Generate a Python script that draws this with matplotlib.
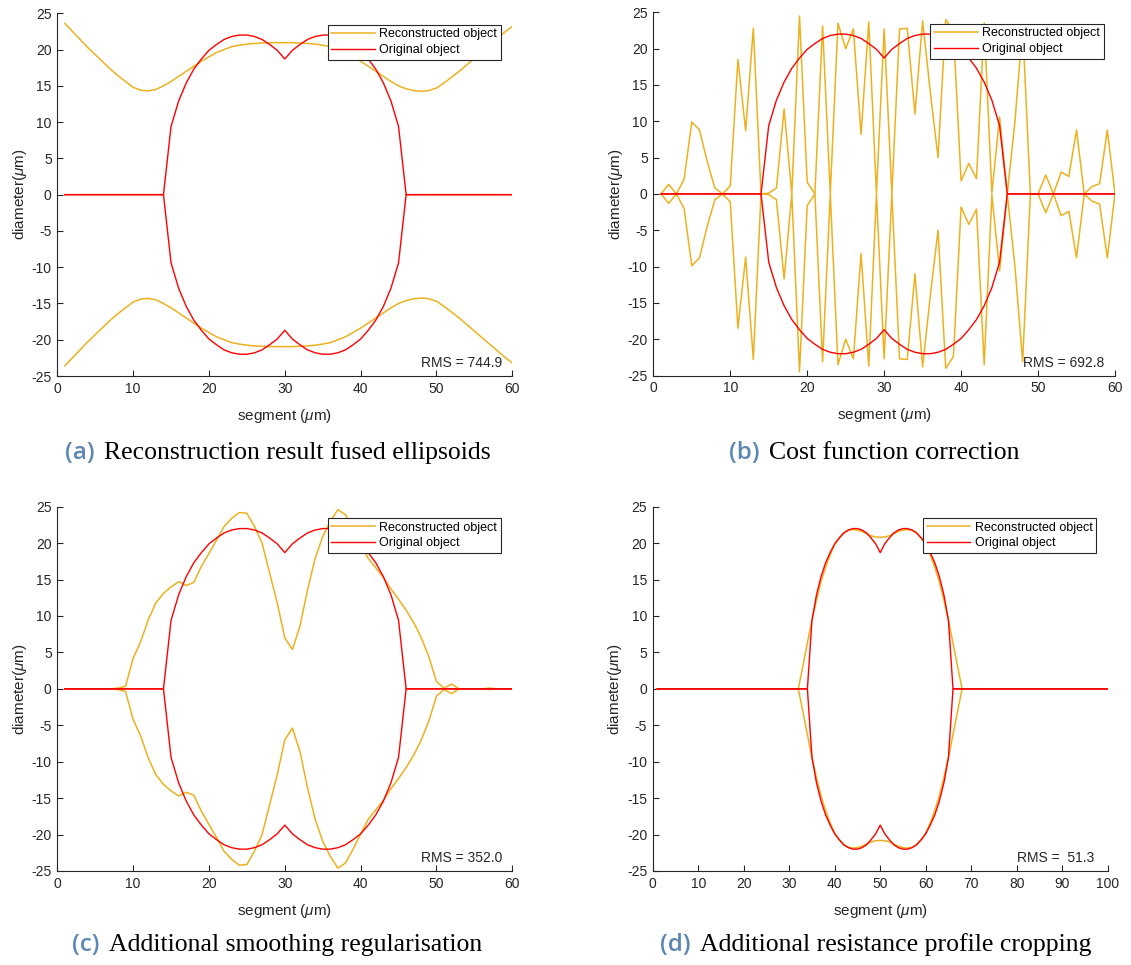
import matplotlib
matplotlib.use('Agg')
import matplotlib.pyplot as plt

# ---------------- data ----------------
segment_60 = list(range(1, 61))
segment_100 = list(range(1, 101))

# original object half-diameter on the non-zero stretch (31 samples)
original_core = [9.4, 12.9, 15.4, 17.3, 18.7, 19.9, 20.7, 21.4, 21.8, 22.0,
                 22.0, 21.8, 21.4, 20.7, 19.9, 18.7, 19.9, 20.7, 21.4, 21.8,
                 22.0, 22.0, 21.8, 21.4, 20.7, 19.9, 18.7, 17.3, 15.4, 12.9, 9.4]
original_60 = [0.0] * 14 + original_core + [0.0] * 15
original_100 = [0.0] * 34 + original_core + [0.0] * 35

recon_a = [23.6, 22.5, 21.4, 20.3, 19.3, 18.3, 17.3, 16.4, 15.6, 14.8,
           14.4, 14.3, 14.5, 15.0, 15.6, 16.3, 17.0, 17.7, 18.4, 19.0,
           19.6, 20.0, 20.4, 20.6, 20.75, 20.85, 20.9, 20.95, 20.95, 20.95,
           20.95, 20.9, 20.85, 20.75, 20.6, 20.4, 20.0, 19.6, 19.0, 18.4,
           17.7, 17.0, 16.3, 15.6, 15.0, 14.6, 14.35, 14.25, 14.35, 14.7,
           15.4, 16.2, 17.0, 17.9, 18.8, 19.7, 20.6, 21.5, 22.4, 23.2]

recon_b = [0.0, 1.3, 0.0, 2.0, 9.9, 8.8, 4.5, 0.8, 0.0, 1.1,
           18.5, 8.7, 22.8, 0.0, 0.1, 0.8, 11.7, 0.0, 24.5, 1.6,
           0.0, 23.1, 0.0, 23.5, 20.0, 22.7, 8.2, 23.7, 0.0, 22.7,
           0.0, 22.7, 22.8, 11.0, 23.8, 14.0, 5.0, 24.0, 22.4, 1.8,
           4.2, 2.1, 23.5, 0.1, 10.6, 0.0, 10.0, 23.1, 0.0, 0.0,
           2.6, 0.0, 3.0, 2.4, 8.8, 0.0, 1.0, 1.4, 8.8, 0.0]

recon_c = [0.0, 0.0, 0.0, 0.0, 0.0, 0.0, 0.0, 0.1, 0.35, 4.2,
           6.5, 9.5, 11.8, 13.1, 14.0, 14.7, 14.2, 14.6, 16.8, 18.6,
           20.4, 22.3, 23.4, 24.2, 24.1, 22.3, 20.0, 15.9, 11.8, 7.0,
           5.4, 8.6, 13.6, 17.9, 20.9, 23.0, 24.6, 23.9, 22.0, 19.9,
           17.9, 16.6, 15.3, 13.7, 12.3, 10.8, 9.1, 7.0, 4.4, 1.0,
           0.1, 0.65, 0.0, 0.0, 0.0, 0.0, 0.1, 0.0, 0.0, 0.0]

recon_d_core = [3.1, 6.3, 9.4, 12.2, 14.7, 16.7, 18.4, 19.8, 20.75, 21.4,
                21.75, 21.85, 21.8, 21.6, 21.3, 21.0, 20.85, 20.8, 20.85, 21.0,
                21.3, 21.6, 21.8, 21.85, 21.75, 21.4, 20.75, 19.8, 18.4, 16.7,
                14.7, 12.2, 9.4, 6.3, 3.1]
recon_d = [0.0] * 32 + recon_d_core + [0.0] * 33

rms_labels = ['RMS = 744.9', 'RMS = 692.8', 'RMS = 352.0', 'RMS =  51.3']
letters = ['(a)', '(b)', '(c)', '(d)']
captions = ['Reconstruction result fused ellipsoids',
            'Cost function correction',
            'Additional smoothing regularisation',
            'Additional resistance profile cropping']
x_ticks_60 = [0, 10, 20, 30, 40, 50, 60]
x_ticks_100 = [0, 10, 20, 30, 40, 50, 60, 70, 80, 90, 100]
y_ticks = [-25, -20, -15, -10, -5, 0, 5, 10, 15, 20, 25]

# ---------------- style ----------------
plt.rcParams['axes.unicode_minus'] = False
plt.rcParams['font.family'] = ['Liberation Sans', 'DejaVu Sans']
plt.rcParams['mathtext.fontset'] = 'custom'
plt.rcParams['mathtext.it'] = 'Liberation Sans:italic'
plt.rcParams['mathtext.rm'] = 'Liberation Sans'

ORANGE = '#EDB120'
RED = '#FF0000'
DARK = '#262626'

W, H = 1131, 965
fig = plt.figure(figsize=(W / 100, H / 100), dpi=100)

# axes rectangles in pixels: left, top, right, bottom
rects = [(57.3, 13.3, 512.3, 376.0),
         (653.3, 12.3, 1115.0, 375.5),
         (57.3, 506.7, 512.3, 871.0),
         (652.7, 506.7, 1107.7, 871.0)]

panels = [(segment_60, recon_a, original_60, x_ticks_60, 60),
          (segment_60, recon_b, original_60, x_ticks_60, 60),
          (segment_60, recon_c, original_60, x_ticks_60, 60),
          (segment_100, recon_d, original_100, x_ticks_100, 100)]

for i, ((xs, rec, org, xt, xmax), (l, t, r, b)) in enumerate(zip(panels, rects)):
    ax = fig.add_axes([l / W, 1 - b / H, (r - l) / W, (b - t) / H])
    ax.plot(xs, rec, color=ORANGE, lw=1.1, label='Reconstructed object')
    ax.plot(xs, [-v for v in rec], color=ORANGE, lw=1.1)
    ax.plot(xs, org, color=RED, lw=1.0, label='Original object')
    ax.plot(xs, [-v for v in org], color=RED, lw=1.0)
    ax.set_xlim(0, xmax)
    ax.set_ylim(-25, 25)
    ax.set_xticks(xt)
    ax.set_yticks(y_ticks)
    for s in ['top', 'right']:
        ax.spines[s].set_visible(False)
    for s in ['left', 'bottom']:
        ax.spines[s].set_color(DARK)
        ax.spines[s].set_linewidth(0.8)
    ax.tick_params(direction='in', length=4, width=0.8, color=DARK,
                   labelcolor=DARK, labelsize=10, pad=4)
    ax.set_xlabel(r'segment ($\mu$m)', fontsize=11, color=DARK, labelpad=8)
    ax.set_ylabel(r'diameter($\mu$m)', fontsize=11, color=DARK, labelpad=2)
    leg = ax.legend(loc='upper right', fontsize=9, frameon=True, fancybox=False,
                    framealpha=1, edgecolor=DARK, handlelength=3.5,
                    handletextpad=0.35, borderpad=0.3, labelspacing=0.3,
                    borderaxespad=0.9)
    leg.get_frame().set_linewidth(0.8)
    ax.text(0.80, 0.035, rms_labels[i], transform=ax.transAxes, ha='left',
            va='center', fontsize=10, color=DARK)

# ---------------- captions ----------------
cap_centers = [(278, 453), (874, 453), (277, 945), (876, 945)]
renderer = fig.canvas.get_renderer()
for (cx, cy), let, cap in zip(cap_centers, letters, captions):
    t1 = fig.text(0, 1 - cy / H, let, color='#5d87b3', fontsize=17.5,
                  fontfamily='Open Sans', fontweight='semibold', va='center', ha='left')
    t2 = fig.text(0, 1 - cy / H, cap, color='black', fontsize=18.5,
                  fontfamily='Liberation Serif', va='center', ha='left')
    w1 = t1.get_window_extent(renderer).width
    w2 = t2.get_window_extent(renderer).width
    gap = 9
    total = w1 + gap + w2
    x0 = cx - total / 2
    t1.set_x(x0 / W)
    t2.set_x((x0 + w1 + gap) / W)

fig.savefig('out.png', dpi=100)
